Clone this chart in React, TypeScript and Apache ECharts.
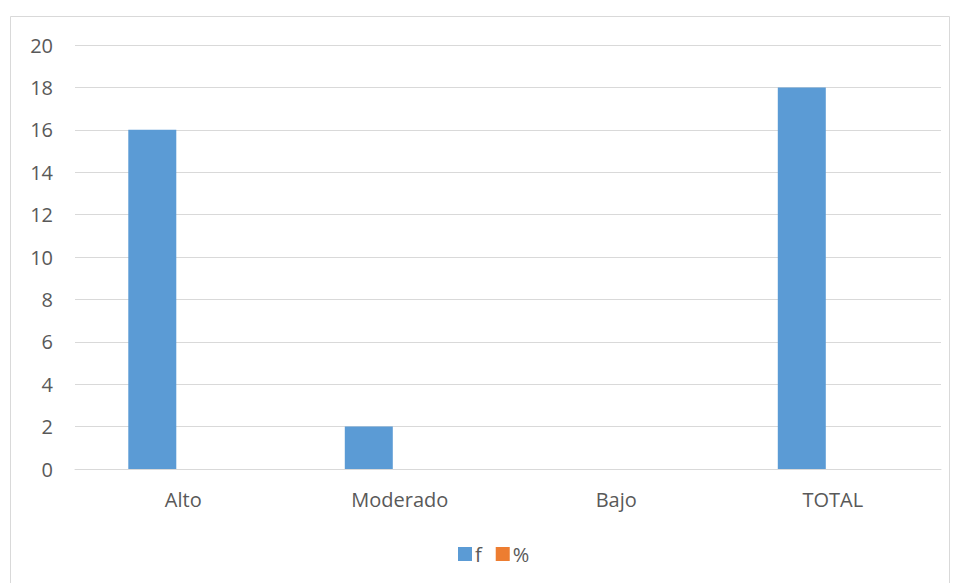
import React, { useEffect, useRef } from "react";
import * as echarts from "echarts";

const categories = ["Alto", "Moderado", "Bajo", "TOTAL"];
const fValues = [16, 2, 0, 18];
const pctValues: (number | null)[] = [null, null, null, null];
const seriesNames = ["f", "%"];

export default function App() {
  const ref = useRef<HTMLDivElement>(null);
  useEffect(() => {
    const chart = echarts.init(ref.current!, null, { renderer: "svg" });
    const font = "'Open Sans', sans-serif";
    chart.setOption({
      animation: false,
      backgroundColor: "#ffffff",
      textStyle: { fontFamily: font },
      graphic: [
        {
          type: "rect",
          shape: { x: 10.5, y: 16.5, width: 939, height: 570 },
          style: { fill: "none", stroke: "#d9d9d9", lineWidth: 1 },
          silent: true,
        },
      ],
      grid: { left: 75, right: 16, top: 45, bottom: 114, containLabel: false },
      legend: {
        bottom: 14,
        left: 453,
        itemWidth: 14,
        itemHeight: 14,
        itemGap: 14,
        icon: "rect",
        textStyle: { color: "#595959", fontSize: 20, fontFamily: font, padding: [0, 0, 0, -2] },
        data: seriesNames,
      },
      xAxis: {
        type: "category",
        data: categories,
        axisLine: { show: true, lineStyle: { color: "#d9d9d9", width: 1 } },
        axisTick: { show: false },
        axisLabel: { color: "#595959", fontSize: 20, margin: 20, fontFamily: font },
      },
      yAxis: {
        type: "value",
        min: 0,
        max: 20,
        interval: 2,
        axisLine: { show: false },
        axisTick: { show: false },
        axisLabel: { color: "#595959", fontSize: 20, margin: 22, fontFamily: font },
        splitLine: { lineStyle: { color: "#d9d9d9", width: 1 } },
      },
      series: [
        {
          name: seriesNames[0],
          type: "bar",
          data: fValues,
          barWidth: 48,
          barGap: "29%",
          itemStyle: { color: "#5b9bd5" },
        },
        {
          name: seriesNames[1],
          type: "bar",
          data: pctValues,
          barWidth: 48,
          itemStyle: { color: "#ed7d31" },
        },
      ],
    });
    return () => chart.dispose();
  }, []);
  return (
    <div
      ref={ref}
      style={{ position: "fixed", left: 0, top: 0, width: 957, height: 583 }}
    />
  );
}
